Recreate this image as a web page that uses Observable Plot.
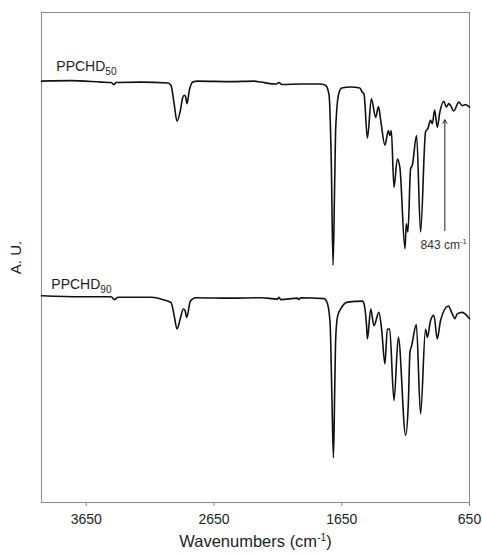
<!DOCTYPE html>
<html>
<head>
<meta charset="utf-8">
<script src="https://cdn.jsdelivr.net/npm/d3@7"></script>
<script src="https://cdn.jsdelivr.net/npm/@observablehq/plot@0.6"></script>
<style>
  html, body { margin: 0; padding: 0; background: #fff; }
  #chart svg { display: block; }
</style>
</head>
<body>
<div id="chart"></div>
<script>
// FTIR spectra, PPCHD50 (upper trace) and PPCHD90 (lower trace), stacked with a vertical offset.
const wn50 = [4000, 3767, 3533, 3455, 3434, 3416, 3220, 3012, 2986, 2962, 2939, 2913, 2895, 2882, 2871, 2861, 2843, 2816, 2777, 2517, 2337, 2283, 2166, 2142, 2119, 1970, 1814, 1775, 1749, 1732, 1718, 1705, 1697, 1673, 1650, 1580, 1509, 1488, 1476, 1449, 1418, 1384, 1363, 1345, 1312, 1285, 1273, 1262, 1241, 1215, 1195, 1155, 1145, 1132, 1111, 1098, 1064, 1033, 994, 976, 955, 941, 923, 902, 882, 851, 832, 812, 798, 773, 734, 707, 681, 650];
const au50 = [86.0, 86.1, 85.8, 85.7, 85.3, 85.7, 85.8, 85.6, 85.1, 81.4, 77.8, 80.0, 82.6, 83.1, 82.7, 81.4, 84.1, 85.8, 86.0, 85.9, 86.0, 85.8, 85.4, 85.7, 85.3, 85.4, 85.4, 85.1, 83.1, 69.8, 48.4, 65.7, 76.5, 83.5, 84.6, 84.8, 84.6, 83.7, 83.4, 74.4, 82.4, 78.6, 80.8, 78.0, 72.9, 75.9, 74.9, 75.9, 64.3, 70.1, 68.4, 51.8, 56.9, 55.2, 68.1, 68.8, 74.9, 55.2, 75.6, 76.3, 78.0, 77.3, 80.1, 76.6, 79.7, 81.9, 80.7, 81.4, 81.0, 79.9, 81.7, 81.0, 81.2, 80.7];

const wn90 = [4000, 3689, 3455, 3429, 3400, 3142, 3025, 2986, 2962, 2939, 2913, 2890, 2877, 2863, 2835, 2791, 2517, 2283, 2152, 2142, 2127, 1996, 1986, 1970, 1788, 1762, 1741, 1728, 1715, 1705, 1697, 1681, 1658, 1605, 1488, 1476, 1455, 1449, 1423, 1398, 1359, 1338, 1312, 1293, 1275, 1241, 1207, 1150, 1129, 1116, 1103, 1066, 1033, 994, 980, 955, 929, 902, 877, 816, 785, 765, 746, 707, 650];
const au90 = [42.2, 42.0, 42.0, 41.4, 41.9, 41.9, 41.2, 40.8, 38.2, 35.4, 37.6, 39.5, 39.2, 37.8, 41.1, 41.8, 41.7, 41.8, 41.5, 41.9, 41.4, 41.7, 41.4, 41.8, 41.6, 40.6, 36.5, 22.9, 9.1, 22.9, 33.7, 38.2, 39.5, 40.9, 41.1, 40.6, 35.8, 33.4, 39.5, 36.1, 38.8, 35.4, 28.3, 35.4, 35.4, 20.8, 33.7, 13.7, 20.1, 30.7, 32.0, 36.3, 18.1, 35.4, 33.7, 37.1, 38.2, 33.4, 37.1, 40.1, 38.5, 37.5, 38.5, 38.8, 37.5];

// Sample names and where they sit next to each trace
const sampleNames = ["PPCHD_{50}", "PPCHD_{90}"];
const sampleNameWn = [3884, 3923];
const sampleNameAu = [88.9, 44.5];

// Band marker on the upper trace
const bandWn = [843];
const bandArrowFrom = [55.5];
const bandArrowTo = [78.1];
const bandLabel = ["843 cm^{-1}"];
const bandLabelWn = [1033];
const bandLabelAu = [52.6];

const xTicks = [3650, 2650, 1650, 650];

const toRows = (wn, au) => d3.range(Math.min(wn.length, au.length)).map(i => ({wn: wn[i], au: au[i]}));
const spectrum50 = toRows(wn50, au50);
const spectrum90 = toRows(wn90, au90);
const names = sampleNames.map((t, i) => ({t, wn: sampleNameWn[i], au: sampleNameAu[i]}));
const band = bandWn.map((wn, i) => ({wn, from: bandArrowFrom[i], to: bandArrowTo[i], label: bandLabel[i], lwn: bandLabelWn[i], lau: bandLabelAu[i]}));

const ink = "#1e1e1e";
const frameGray = "#8a8a8a";

const chart = Plot.plot({
  width: 482,
  height: 555,
  marginLeft: 41,
  marginRight: 13,
  marginTop: 12,
  marginBottom: 53,
  style: {fontFamily: "'Liberation Sans', Arial, sans-serif", fontSize: "14px", color: ink, background: "#fff"},
  x: {domain: [4000, 650]},
  y: {domain: [0, 100], axis: null},
  marks: [
    Plot.frame({stroke: frameGray}),
    Plot.axisX({ticks: xTicks, tickSize: 4, tickPadding: 8, fontSize: 14, label: null, stroke: frameGray, fill: ink, tickFormat: d => String(d)}),
    Plot.line(spectrum50, {x: "wn", y: "au", stroke: "#111", strokeWidth: 1.6, curve: "monotone-x"}),
    Plot.line(spectrum90, {x: "wn", y: "au", stroke: "#111", strokeWidth: 1.6, curve: "monotone-x"}),
    Plot.text(names, {x: "wn", y: "au", text: "t", textAnchor: "start", fontSize: 14, fill: ink}),
    Plot.arrow(band, {x1: "wn", x2: "wn", y1: "from", y2: "to", stroke: "#222", strokeWidth: 1, headLength: 6}),
    Plot.text(band, {x: "lwn", y: "lau", text: "label", textAnchor: "start", fontSize: 12, fill: "#333"}),
    Plot.text(["A. U."], {frameAnchor: "left", dx: -25, rotate: -90, textAnchor: "middle", lineAnchor: "middle", fontSize: 15, fill: ink}),
    Plot.text(["Wavenumbers (cm^{-1})"], {frameAnchor: "bottom", dy: 39, textAnchor: "middle", lineAnchor: "middle", fontSize: 16.5, fill: ink})
  ]
});

document.getElementById("chart").appendChild(chart);

// Turn _{..} and ^{..} markup into subscript / superscript tspans
const SVGNS = "http://www.w3.org/2000/svg";
chart.querySelectorAll("text").forEach(t => {
  const s = t.textContent;
  if (!/[_^]\{/.test(s)) return;
  const fs = parseFloat(getComputedStyle(t).fontSize) || 14;
  t.textContent = "";
  const re = /([_^])\{([^}]*)\}/g;
  let last = 0, m, shift = 0;
  const add = (str, size, dy) => {
    const ts = document.createElementNS(SVGNS, "tspan");
    if (size) ts.setAttribute("font-size", size);
    if (dy) ts.setAttribute("dy", dy);
    ts.textContent = str;
    t.appendChild(ts);
  };
  while ((m = re.exec(s))) {
    if (m.index > last) { add(s.slice(last, m.index), null, -shift); shift = 0; }
    const sub = m[1] === "_";
    const d = sub ? 0.26 * fs : -0.38 * fs;
    add(m[2], (sub ? 0.72 : 0.62) * fs, d - shift);
    shift = d;
    last = re.lastIndex;
  }
  if (last < s.length) add(s.slice(last), null, -shift);
});
</script>
</body>
</html>
